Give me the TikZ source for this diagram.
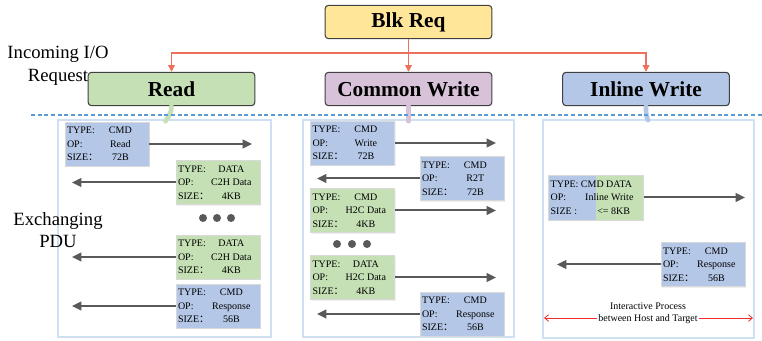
\documentclass[tikz,border=0pt]{standalone}
\usepackage{fontspec}
\setmainfont{Liberation Serif}
\newfontfamily\cjkfont{Noto Sans CJK SC}
\usepackage{tikz}
\usetikzlibrary{arrows.meta, shadows}
\definecolor{blkbg}{RGB}{255,230,153}
\definecolor{readbg}{RGB}{197,224,180}
\definecolor{writebg}{RGB}{215,194,217}
\definecolor{inlinebg}{RGB}{180,199,231}
\definecolor{cmdbg}{RGB}{180,199,231}
\definecolor{databg}{RGB}{197,224,180}
\definecolor{reqline}{RGB}{237,112,92}
\definecolor{sepline}{RGB}{91,155,213}
\definecolor{panelborder}{RGB}{208,224,243}
\definecolor{pduarrow}{RGB}{89,89,89}
\definecolor{spanred}{RGB}{238,45,45}
\tikzstyle{head} = [rectangle, rounded corners=2.5pt, draw=black!75, line width=0.8pt, minimum width=125pt, minimum height=25pt, font=\fontsize{16}{19}\selectfont\bfseries]
\tikzstyle{pdubox} = [rectangle, draw=black!15, minimum width=63pt, minimum height=33pt, inner xsep=1.5pt, inner ysep=1pt, align=left, font=\fontsize{7.5}{10}\selectfont, drop shadow={opacity=0.12, shadow xshift=0.8pt, shadow yshift=-0.8pt}]
\tikzstyle{cmdbox} = [pdubox, fill=cmdbg]
\tikzstyle{databox} = [pdubox, fill=databg]
\tikzstyle{panel} = [rectangle, draw=panelborder, line width=1pt, fill=white, drop shadow={opacity=0.10, shadow xshift=1pt, shadow yshift=-1pt}]
\tikzstyle{pdu} = [draw=pduarrow, line width=1.5pt, -{Triangle[length=7pt,width=6.5pt]}]
\tikzstyle{req} = [draw=reqline, line width=0.9pt, -{Triangle[length=5pt,width=5pt]}]
\tikzstyle{hostspan} = [draw=spanred, line width=0.6pt, -{Straight Barb[length=3pt,width=5pt]}]
\tikzstyle{tail} = [line width=3.5pt, line cap=round]
\newcommand{\pduinfo}[3]{%
    \makebox[20pt][l]{TYPE:}\makebox[40pt]{#1}\\
    \makebox[20pt][l]{OP:}\makebox[40pt]{#2}\\
    \makebox[20pt][l]{SIZE{\cjkfont ：}}\makebox[40pt]{#3}}

\begin{document}
\begin{tikzpicture}[x=0.75pt, y=-0.75pt]
    \useasboundingbox (0,0) rectangle (762,341);

    \node[panel, minimum width=159.75pt, minimum height=162.75pt] (p1) at (164.5,228.5) {};
    \node[panel, minimum width=158.25pt, minimum height=162.75pt] (p2) at (408.5,228.5) {};
    \node[panel, minimum width=158.25pt, minimum height=163.5pt] (p3) at (648.5,229) {};

    \node[head, fill=blkbg] (blk) at (408.5,22) {Blk Req};
    \node[head, fill=readbg] (rd) at (171.5,89) {Read};
    \node[head, fill=writebg] (cw) at (408.5,89) {Common Write};
    \node[head, fill=inlinebg] (iw) at (646,89) {Inline Write};

    \coordinate (split) at (408.5,53);
    \draw[req] (blk.south) -- (cw.north);
    \draw[req] (split) -| (rd.north);
    \draw[req] (split) -| (iw.north);

    \draw[tail, readbg] (rd.south) .. controls +(0,7) and +(3,-5) .. ++(-6,15);
    \draw[tail, writebg] (cw.south) -- ++(0,15);
    \draw[tail, inlinebg] (iw.south) .. controls +(0,7) and +(-2,-5) .. ++(2,14);
    \draw[draw=sepline, line width=1.2pt, dash pattern=on 3pt off 2pt] (31,115) -- (762,115);

    \node[font=\fontsize{14}{17}\selectfont, align=center] (inreq) at (58,66) {Incoming I/O\\Request};
    \node[font=\fontsize{14}{16.5}\selectfont, align=center] (xpdu) at (58,230) {Exchanging\\PDU};

    \coordinate (p1l) at (72,0);  \coordinate (p1r) at (252,0);
    \coordinate (p2l) at (317,0); \coordinate (p2r) at (496,0);
    \coordinate (p3l) at (557,0); \coordinate (p3r) at (745,0);

    % Read
    \node[cmdbox] (r1) at (107,144) {\pduinfo{CMD}{Read}{72B}};
    \node[databox] (r2) at (218,182.5) {\pduinfo{DATA}{C2H Data}{4KB}};
    \node[databox] (r3) at (218,257) {\pduinfo{DATA}{C2H Data}{4KB}};
    \node[cmdbox] (r4) at (218,306) {\pduinfo{CMD}{Response}{56B}};
    \foreach \x in {203,217,231} \fill[pduarrow] (\x,218) circle (3pt);
    \draw[pdu] (r1.east) -- (r1.east -| p1r);
    \draw[pdu] (r2.west) -- (r2.west -| p1l);
    \draw[pdu] (r3.west) -- (r3.west -| p1l);
    \draw[pdu] (r4.west) -- (r4.west -| p1l);

    % Common Write
    \node[cmdbox] (w1) at (352.5,143) {\pduinfo{CMD}{Write}{72B}};
    \node[cmdbox] (w2) at (462,178.5) {\pduinfo{CMD}{R2T}{72B}};
    \node[databox] (w3) at (352.5,210.5) {\pduinfo{CMD}{H2C Data}{4KB}};
    \node[databox] (w4) at (352.5,277.5) {\pduinfo{DATA}{H2C Data}{4KB}};
    \node[cmdbox] (w5) at (462,314) {\pduinfo{CMD}{Response}{56B}};
    \foreach \x in {337,352,367} \fill[pduarrow] (\x,244) circle (3pt);
    \draw[pdu] (w1.east) -- (w1.east -| p2r);
    \draw[pdu] (w2.west) -- (w2.west -| p2l);
    \draw[pdu] (w3.east) -- (w3.east -| p2r);
    \draw[pdu] (w4.east) -- (w4.east -| p2r);
    \draw[pdu] (w5.west) -- (w5.west -| p2l);

    % Inline Write
    \node[databox, minimum width=70.5pt, minimum height=33.75pt,
        path picture={\fill[cmdbg] (path picture bounding box.north west) rectangle ([xshift=35.25pt]path picture bounding box.south west);}]
        (i1) at (596,197.5) {TYPE: CMD DATA\\
        \makebox[20pt][l]{OP:}\makebox[48pt]{Inline Write}\\
        \makebox[20pt][l]{SIZE :}\hspace{15pt}<= 8KB};
    \node[cmdbox] (i2) at (703,264.5) {\pduinfo{CMD}{Response}{56B}};
    \draw[pdu] (i1.east) -- (i1.east -| p3r);
    \draw[pdu] (i2.west) -- (i2.west -| p3l);

    \node[font=\fontsize{7.5}{9}\selectfont, align=center, inner xsep=1pt] (ipt) at (648,313) {Interactive Process\\between Host and Target};
    \coordinate (ipl) at (544,318);
    \coordinate (ipr) at (753,318);
    \draw[hostspan] (ipt.west |- ipl) -- (ipl);
    \draw[hostspan] (ipt.east |- ipr) -- (ipr);
\end{tikzpicture}
\end{document}
